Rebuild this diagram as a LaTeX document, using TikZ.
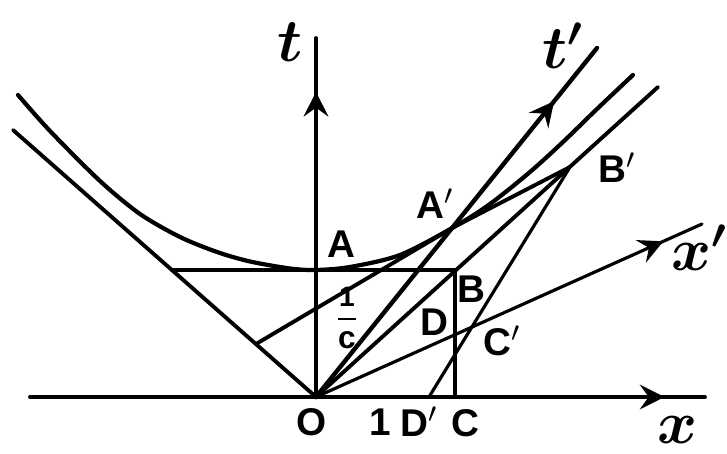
\documentclass[tikz,border=0pt]{standalone}
\usepackage{fontspec}
\setmainfont{Liberation Sans}
\usepackage{bm}
\usetikzlibrary{arrows.meta,decorations.markings}

\tikzset{
    axisarrow/.style={postaction={decorate},
        decoration={markings, mark=at position #1 with {\arrow{>}}}},
    lbl/.style={font=\fontsize{11}{13}\selectfont\bfseries, inner sep=0pt},
    axlbl/.style={font=\fontsize{17}{20}\selectfont, inner sep=0pt},
}

\begin{document}
\begin{tikzpicture}[>={Stealth[length=7pt,width=7pt,inset=2.5pt]}, line width=1.1pt, line cap=round]
    \useasboundingbox (-3.16,-0.57) rectangle (4.11,3.97);

    % Punkte
    \coordinate (O) at (0,0);
    \coordinate (tend) at (0,3.59);
    \coordinate (xl) at (-2.86,0);
    \coordinate (xr) at (3.89,0);
    \coordinate (L) at (-3.03,2.67);
    \coordinate (R) at (3.42,3.10);
    \coordinate (A) at (0,1.27);
    \coordinate (H) at (-1.44,1.27);
    \coordinate (B) at (1.39,1.27);
    \coordinate (C) at (1.39,0);
    \coordinate (P) at (-0.60,0.53);
    \coordinate (Ap) at (1.38,1.70);
    \coordinate (Bp) at (2.54,2.30);
    \coordinate (Dp) at (1.13,0);
    \coordinate (tpend) at (2.81,3.49);
    \coordinate (xpend) at (3.86,1.73);
    \coordinate (D) at (intersection of O--xpend and B--C);
    \coordinate (Cp) at (intersection of Dp--Bp and O--xpend);

    % Achsen
    \draw[axisarrow=0.94] (xl) -- (xr);
    \draw[axisarrow=0.85] (O) -- (tend);
    \draw[axisarrow=0.85, line width=1.25pt] (O) -- (tpend);
    \draw[axisarrow=0.90, line width=0.9pt] (O) -- (xpend);

    % Lichtlinien
    \draw (L) -- (O) -- (R);

    % Hyperbel
    \draw[line width=1.2pt] plot[smooth] coordinates {(-2.98,3.02) (-2.66,2.66)
        (-2.16,2.16) (-1.76,1.83) (-1.36,1.60) (-0.99,1.45) (-0.66,1.355)
        (-0.26,1.285) (0,1.27) (0.34,1.30) (0.84,1.42) (1.38,1.70) (1.74,1.93)
        (2.14,2.25) (2.47,2.55) (2.81,2.88) (3.17,3.22)};

    % Hilfslinien
    \draw (H) -- (B) -- (C);
    \draw (P) -- (Ap) -- (Bp);
    \draw[line width=0.9pt] (Dp) -- (Bp);

    % Beschriftung
    \node[axlbl] (lt) at (-0.26,3.55) {$\bm{t}$};
    \node[axlbl] (ltp) at (2.47,3.51) {$\bm{t'}$};
    \node[axlbl] (lx) at (3.62,-0.33) {$\bm{x}$};
    \node[axlbl] (lxp) at (3.84,1.49) {$\bm{x'}$};
    \node[lbl] (lO) at (-0.04,-0.25) {O};
    \node[lbl] (l1) at (0.64,-0.25) {1};
    \node[lbl] (lDp) at (1.03,-0.25) {D$'$};
    \node[lbl] (lC) at (1.49,-0.26) {C};
    \node[lbl] (lA) at (0.25,1.53) {A};
    \node[lbl] (lAp) at (1.19,1.93) {A$'$};
    \node[lbl] (lB) at (1.55,1.08) {B};
    \node[lbl] (lBp) at (3.01,2.29) {B$'$};
    \node[lbl] (lD) at (1.18,0.75) {D};
    \node[lbl] (lCp) at (1.86,0.56) {C$'$};
    \node[lbl, font=\fontsize{9}{10}\selectfont\bfseries] (lc) at (0.31,0.79)
        {$\displaystyle\frac{\textbf{\footnotesize 1}}{\textbf{c}}$};
\end{tikzpicture}
\end{document}
